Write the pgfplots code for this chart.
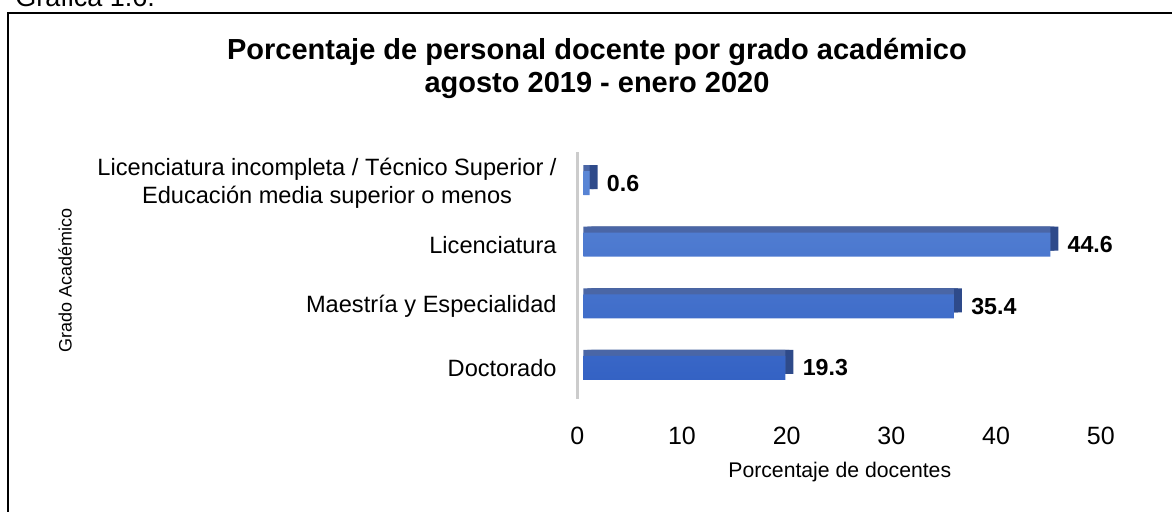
\documentclass[border=0pt]{standalone}
\usepackage{fontspec}
\setmainfont{Liberation Sans}
\usepackage{pgfplots}
\pgfplotsset{compat=1.18}

\definecolor{barTop}{HTML}{5B87D6}
\definecolor{barBot}{HTML}{3462C4}
\definecolor{faceTop}{HTML}{4A66A6}
\definecolor{faceSide}{HTML}{2E4A8A}

\begin{document}
\begin{tikzpicture}
\useasboundingbox (0,0) rectangle (586pt,256pt);
\clip (0,0) rectangle (586pt,256pt);

% cabecera recortada y marco
\node[anchor=base west, inner sep=0, font=\fontsize{13.5}{16}\selectfont] at (7.5pt,252.5pt) {Gráfica 1.6.};
\draw[line width=1pt] (4pt,-5pt) -- (4pt,249.5pt) -- (600pt,249.5pt);

% titulo
\node[anchor=base, inner sep=0, font=\bfseries\fontsize{14.5}{16.5}\selectfont] at (298.5pt,226pt) {Porcentaje de personal docente por grado académico};
\node[anchor=base, inner sep=0, font=\bfseries\fontsize{14.5}{16.5}\selectfont] at (298.5pt,209.5pt) {agosto 2019 - enero 2020};

\begin{axis}[
    at={(288.5pt,56.6pt)}, anchor=south west,
    scale only axis,
    width=264.9pt, height=123.3pt,
    xmin=-0.6, xmax=50,
    ymin=-0.5, ymax=3.5,
    axis lines*=left,
    x axis line style={draw=none},
    y axis line style={draw=gray!40, line width=1.5pt},
    major tick length=0pt,
    xtick={0,10,20,30,40,50},
    ytick={0,1,2,3},
    yticklabels={Doctorado, Maestría y Especialidad, Licenciatura,
      {Licenciatura incompleta / Técnico Superior /\\Educación media superior o menos}},
    /pgf/number format/assume math mode=true,
    xticklabel style={font=\fontsize{12.5}{15}\selectfont, anchor=north, inner sep=0pt, yshift=-14pt, xshift=-3pt},
    yticklabel style={font=\fontsize{11.8}{14.2}\selectfont, align=center, anchor=east, inner sep=0pt, xshift=-10pt},
    xlabel={Porcentaje de docentes},
    xlabel style={font=\fontsize{10.6}{12}\selectfont, at={(axis description cs:0.496,-0.321)}, anchor=base, inner sep=0pt},
    ylabel={Grado Académico},
    ylabel style={font=\fontsize{9}{11}\selectfont, at={(axis description cs:-0.966,0.48)}, anchor=center, inner sep=0pt},
    clip=false,
]

% cara lateral
\addplot[xbar, bar width=12pt, fill=faceSide, draw=none, xshift=4pt, yshift=3pt]
coordinates {(19.3,0) (35.4,1) (44.6,2) (0.6,3)};
\addplot[xbar, bar width=12pt, fill=faceSide, draw=none, xshift=2pt, yshift=3pt]
coordinates {(19.3,0) (35.4,1) (44.6,2) (0.6,3)};
% cara superior
\addplot[xbar, bar width=12pt, fill=faceTop, draw=none, yshift=3pt]
coordinates {(19.3,0) (35.4,1) (44.6,2) (0.6,3)};

% cara frontal
\addplot[xbar, bar width=12pt, top color=barTop, bottom color=barBot, draw=none,
    nodes near coords={\pgfmathprintnumber[fixed,precision=1,fixed zerofill]{\pgfplotspointmeta}},
    nodes near coords style={font=\bfseries\fontsize{11.6}{14}\selectfont, anchor=west, inner sep=0pt, xshift=8.5pt, text=black},
]
coordinates {(19.3,0) (35.4,1) (44.6,2) (0.6,3)};

\end{axis}
\end{tikzpicture}
\end{document}
